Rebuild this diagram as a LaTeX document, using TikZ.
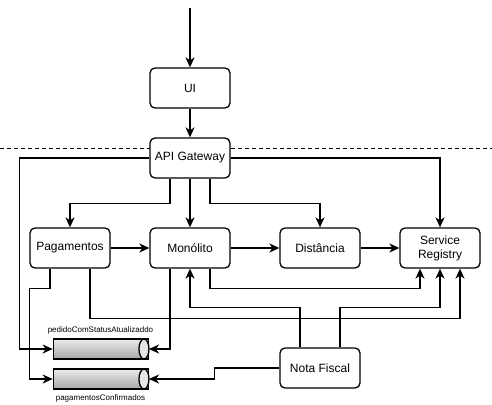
\documentclass[tikz,border=0pt]{standalone}
\usepackage{fontspec}
\setmainfont{Liberation Sans}
\usetikzlibrary{arrows.meta,positioning,shapes.geometric}

\begin{document}
\begin{tikzpicture}[x=1pt, y=-1pt,
		box/.style={draw, line width=1.3pt, rounded corners=5pt, fill=white,
			minimum width=80pt, minimum height=40pt, align=center,
			font=\fontsize{12}{14}\selectfont},
		fila/.style={cylinder, draw, line width=1.3pt, top color=gray!15,
			bottom color=gray!70, minimum height=95pt, minimum width=20pt,
			inner sep=0pt, aspect=0.5},
		tampa/.style={draw, line width=1.3pt, fill=gray!20},
		rotulo/.style={font=\fontsize{8}{9}\selectfont, inner sep=0pt},
		liga/.style={line width=1.3pt, -{Stealth[length=10pt, width=9pt, inset=3pt]}}]
		\useasboundingbox (0, 0) rectangle (492, 404);
		\draw [line width=0.8pt, dash pattern=on 4pt off 3pt] (0, 148) -- (492, 148);
		\coordinate (entrada) at (190, 8);
		\node [box] (ui) at (190, 88) {UI};
		\node [box] (gw) at (190, 158) {API Gateway};
		\node [box] (pag) at (70, 248) {Pagamentos};
		\node [box] (mono) at (190, 248) {Monólito};
		\node [box] (dist) at (320, 248) {Distância};
		\node [box] (sr) at (440, 248) {Service\\Registry};
		\node [box] (nf) at (320, 368) {Nota Fiscal};
		\node [fila] (pedido) at (100.5, 349) {};
		\node [fila] (pagconf) at (100.5, 379) {};
		\draw [tampa] ([xshift=-5pt]pedido.east) ellipse [x radius=5pt, y radius=10pt];
		\draw [tampa] ([xshift=-5pt]pagconf.east) ellipse [x radius=5pt, y radius=10pt];
		\node [rotulo, above=4pt of pedido] (pedidoRot) {pedidoComStatusAtualizaddo};
		\node [rotulo, below=5pt of pagconf] (pagconfRot) {pagamentosConfirmados};

		\draw [liga] (entrada) -- (ui);
		\draw [liga] (ui) -- (gw);
		\draw [liga] (gw.west) -| ([xshift=-33pt]pedido.west) -- (pedido.west);
		\draw [liga] (gw.east) -| (sr);
		\draw [liga] ([xshift=-20pt]gw.south) -- ++(0, 25) -| (pag);
		\draw [liga] (gw) -- (mono);
		\draw [liga] ([xshift=20pt]gw.south) -- ++(0, 25) -| (dist);
		\draw [liga] (pag) -- (mono);
		\draw [liga] (mono) -- (dist);
		\draw [liga] (dist) -- (sr);
		\draw [liga] ([xshift=-20pt]pag.south) -- ++(0, 20) -| ([xshift=-23pt]pagconf.west) -- (pagconf.west);
		\draw [liga] ([xshift=20pt]pag.south) -- ++(0, 50) -| ([xshift=20pt]sr.south);
		\draw [liga] ([xshift=-20pt]mono.south) |- (pedido.east);
		\draw [liga] ([xshift=20pt]mono.south) -- ++(0, 20) -| ([xshift=-20pt]sr.south);
		\draw [liga] ([xshift=-20pt]nf.north) -- ++(0, -40) -| (mono);
		\draw [liga] ([xshift=20pt]nf.north) -- ++(0, -40) -| (sr);
		\draw [liga] (nf.west) -- ++(-65, 0) |- (pagconf.east);
	\end{tikzpicture}
\end{document}
